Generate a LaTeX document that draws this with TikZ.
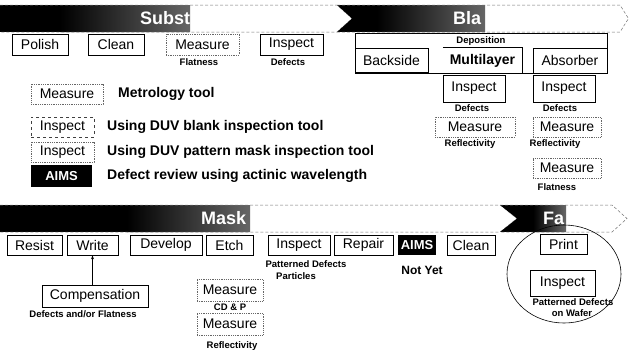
\documentclass[tikz,border=0pt]{standalone}
\usepackage{fontspec}
\setmainfont{Liberation Sans}
\usetikzlibrary{arrows.meta,shapes.geometric}
\begin{document}
\begin{tikzpicture}[x=1pt,y=-1pt,
  lbl/.style={font=\fontsize{14}{16}\selectfont, inner sep=0pt},
  solidbox/.style={lbl, draw=black, line width=0.7pt},
  dotbox/.style={lbl, draw=black!60, densely dotted, line width=0.8pt},
  blackbox/.style={fill=black, text=white, font=\bfseries\fontsize{13}{15}\selectfont, inner sep=0pt},
  note/.style={font=\bfseries\fontsize{9.5}{11}\selectfont, inner sep=0pt},
  legendtext/.style={font=\bfseries\fontsize{14}{16}\selectfont, anchor=west, inner sep=0pt},
  bannertext/.style={font=\bfseries\fontsize{18}{20}\selectfont, text=white, anchor=west, inner sep=0pt},
  banneredge/.style={draw=black!55, line width=0.5pt, densely dashed},
]
\useasboundingbox (0,0) rectangle (629,357);

% ---------- phase banners ----------
% Substrate
\begin{scope}
  \clip (0,5) -- (337,5) -- (352,18.5) -- (337,32) -- (0,32) -- cycle;
  \fill[white] (0,5) rectangle (352,32);
  \fill[black] (0,5) rectangle (60,32);
  \shade[left color=black, right color=black!60] (60,5) rectangle (190,32);
\end{scope}
\draw[banneredge] (0,5) -- (337,5) -- (352,18.5) -- (337,32) -- (0,32);
\node[bannertext] (subst) at (140,18.5) {Subst};
% Blank
\begin{scope}
  \clip (337,5) -- (620,5) -- (629,18.5) -- (620,32) -- (337,32) -- (352,18.5) -- cycle;
  \fill[white] (337,5) rectangle (629,32);
  \fill[black] (337,5) rectangle (377,32);
  \shade[left color=black, right color=black!60] (377,5) rectangle (485,32);
\end{scope}
\draw[banneredge] (337,5) -- (620,5) -- (628.5,18.5) -- (620,32) -- (337,32);
\node[bannertext] (blank) at (453,18.5) {Bla};
% Mask
\begin{scope}
  \clip (0,205) -- (500,205) -- (517,218.5) -- (500,232) -- (0,232) -- cycle;
  \fill[white] (0,205) rectangle (517,232);
  \fill[black] (0,205) rectangle (127,232);
  \shade[left color=black, right color=black!60] (127,205) rectangle (250,232);
\end{scope}
\draw[banneredge] (0,205) -- (500,205) -- (517,218.5) -- (500,232) -- (0,232);
\node[bannertext] (mask) at (201,218.5) {Mask};
% Fab
\begin{scope}
  \clip (500,205) -- (612,205) -- (627,218.5) -- (612,232) -- (500,232) -- (517,218.5) -- cycle;
  \fill[white] (500,205) rectangle (629,232);
  \fill[black] (500,205) rectangle (533,232);
  \shade[left color=black, right color=black!60] (533,205) rectangle (566,232);
\end{scope}
\draw[banneredge] (500,205) -- (612,205) -- (627,218.5) -- (612,232) -- (500,232);
\node[bannertext] (fab) at (543,218.5) {Fa};

% ---------- substrate steps ----------
\node[solidbox, minimum width=56, minimum height=21] (polish) at (40,44.5) {Polish};
\node[solidbox, minimum width=56, minimum height=21] (clean1) at (116,44.5) {Clean};
\node[dotbox, minimum width=73, minimum height=21] (meas1) at (202.5,44.5) {Measure};
\node[solidbox, minimum width=63, minimum height=21] (insp1) at (291.5,44.5) {Inspect};
\node[note] (flat1) at (199,62) {Flatness};
\node[note] (def1) at (288,62) {Defects};

% ---------- blank steps ----------
\node[draw, line width=0.7pt, minimum width=252, minimum height=40, inner sep=0pt] (depo) at (481,53) {};
\node[note] (depolbl) at (481,41) {Deposition};
\node[solidbox, minimum width=73, minimum height=24] (backside) at (391.5,60) {Backside};
\node[lbl, font=\bfseries\fontsize{14}{16}\selectfont, minimum width=79, minimum height=25] (multi) at (482.5,60.5) {Multilayer};
\draw[line width=0.7pt] (multi.north west) -- (multi.north east) -- (multi.south east);
\node[solidbox, minimum width=74, minimum height=25] (absorb) at (570,60.5) {Absorber};
\node[solidbox, minimum width=62, minimum height=27] (inspB1) at (474,88.5) {Inspect};
\node[solidbox, minimum width=62, minimum height=27] (inspB2) at (564,88.5) {Inspect};
\node[note] (defB1) at (472,108) {Defects};
\node[note] (defB2) at (560,108) {Defects};
\node[dotbox, minimum width=80, minimum height=20] (measB1) at (475,127) {Measure};
\node[dotbox, minimum width=68, minimum height=20] (measB2) at (567,127) {Measure};
\node[note] (reflB1) at (470,144) {Reflectivity};
\node[note] (reflB2) at (555,144) {Reflectivity};
\node[dotbox, minimum width=68, minimum height=20] (measB3) at (567,168) {Measure};
\node[note] (flatB3) at (557,187) {Flatness};

% ---------- legend ----------
\node[dotbox, minimum width=72, minimum height=20] (lgmeas) at (67,94) {Measure};
\node[legendtext] (lgmeast) at (118,94) {Metrology tool};
\node[solidbox, draw=black!75, dashed, minimum width=63, minimum height=20] (lginsp1) at (62.5,127) {Inspect};
\node[legendtext] (lginsp1t) at (107,127) {Using DUV blank inspection tool};
\node[dotbox, minimum width=63, minimum height=20] (lginsp2) at (62.5,152) {Inspect};
\node[legendtext] (lginsp2t) at (107,152) {Using DUV pattern mask inspection tool};
\node[blackbox, minimum width=61, minimum height=22] (lgaims) at (61.5,176) {AIMS};
\node[legendtext] (lgaimst) at (107,176) {Defect review using actinic wavelength};

% ---------- mask steps ----------
\node[solidbox, minimum width=55, minimum height=20] (resist) at (34.5,245) {Resist};
\node[solidbox, minimum width=51, minimum height=20] (write) at (92.5,245) {Write};
\node[solidbox, minimum width=72, minimum height=20] (develop) at (166,245) {Develop};
\node[solidbox, minimum width=47, minimum height=20] (etch) at (229.5,245) {Etch};
\node[solidbox, minimum width=62, minimum height=20] (inspM) at (299,245) {Inspect};
\node[solidbox, minimum width=59, minimum height=20] (repair) at (363.5,245) {Repair};
\node[blackbox, minimum width=38, minimum height=20] (aimsM) at (417,245) {AIMS};
\node[solidbox, minimum width=48, minimum height=20] (clean2) at (471,245) {Clean};
\node[note] (patdef) at (306,264) {Patterned Defects};
\node[note] (partic) at (296,276) {Particles};
\node[font=\bfseries\fontsize{12}{14}\selectfont, inner sep=0pt] (notyet) at (422,270) {Not Yet};

\node[solidbox, minimum width=106, minimum height=22] (comp) at (95,296) {Compensation};
\node[note] (compnote) at (83,314) {Defects and/or Flatness};
\draw[-{Stealth[length=4pt,width=3pt]}, line width=0.5pt] (comp.north -| write.south) -- (write.south);

\node[dotbox, minimum width=66, minimum height=22] (measM1) at (230,290) {Measure};
\node[note] (cdp) at (230,307.5) {CD \& P};
\node[dotbox, minimum width=66, minimum height=22] (measM2) at (230,324) {Measure};
\node[note] (reflM2) at (232,346) {Reflectivity};

% ---------- fab steps ----------
\node[draw, ellipse, line width=0.6pt, minimum width=114, minimum height=98, inner sep=0pt] (fabring) at (564,274) {};
\node[solidbox, minimum width=47, minimum height=20] (print) at (563.5,244) {Print};
\node[solidbox, minimum width=65, minimum height=26] (inspF) at (562.5,283) {Inspect};
\node[note] (patdefF) at (573,302) {Patterned Defects};
\node[note] (wafer) at (572,313) {on Wafer};
\end{tikzpicture}
\end{document}
